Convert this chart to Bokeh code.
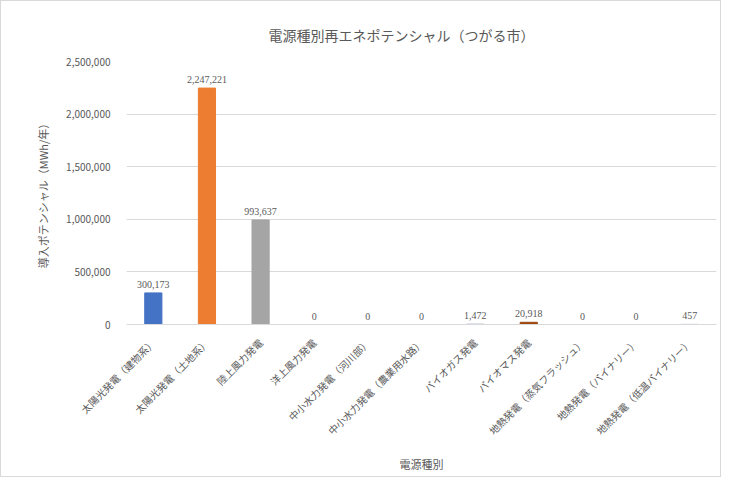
from bokeh.plotting import figure
from bokeh.models import ColumnDataSource, LabelSet, NumeralTickFormatter, FixedTicker, Range1d
from bokeh.embed import file_html
from bokeh.resources import INLINE
import math

categories = [
    "太陽光発電（建物系）",
    "太陽光発電（土地系）",
    "陸上風力発電",
    "洋上風力発電",
    "中小水力発電（河川部）",
    "中小水力発電（農業用水路）",
    "バイオガス発電",
    "バイオマス発電",
    "地熱発電（蒸気フラッシュ）",
    "地熱発電（バイナリー）",
    "地熱発電（低温バイナリー）",
]
values = [300173, 2247221, 993637, 0, 0, 0, 1472, 20918, 0, 0, 457]
colors = ["#4472C4", "#ED7D31", "#A5A5A5", "#FFC000", "#5B9BD5", "#70AD47",
          "#264478", "#9E480E", "#636363", "#997300", "#255E91"]
y_ticks = [0, 500000, 1000000, 1500000, 2000000, 2500000]

FONT = "Noto Sans CJK JP"
GRAY = "#595959"

src = ColumnDataSource(dict(
    cat=categories, val=values, color=colors,
    label=[f"{v:,}" for v in values],
))

p = figure(
    x_range=categories, y_range=Range1d(0, 2500000),
    width=721, height=477, output_backend="svg", toolbar_location=None,
    min_border_left=125, min_border_right=6, min_border_top=60, min_border_bottom=154,
    title="電源種別再エネポテンシャル（つがる市）",
)
p.styles = {"border": "1px solid #d9d9d9"}

p.vbar(x="cat", top="val", width=0.32, color="color", source=src)

labels = LabelSet(x="cat", y="val", text="label", source=src, y_offset=5,
                  text_align="center", text_baseline="bottom",
                  text_font_size="10px", text_color=GRAY, text_font=FONT)
p.add_layout(labels)

p.title.align = "left"
p.title.offset = 142
p.title.text_font = FONT
p.title.text_font_size = "14px"
p.title.text_font_style = "normal"
p.title.text_color = GRAY
p.title.standoff = 34

p.outline_line_color = None
p.xgrid.grid_line_color = None
p.ygrid.grid_line_color = "#d9d9d9"
p.ygrid.ticker = FixedTicker(ticks=y_ticks)

p.yaxis.ticker = FixedTicker(ticks=y_ticks)
p.yaxis.formatter = NumeralTickFormatter(format="0,0")
p.yaxis.axis_line_color = None
p.yaxis.major_tick_line_color = None
p.yaxis.minor_tick_line_color = None
p.yaxis.major_label_text_font = FONT
p.yaxis.major_label_text_font_size = "10px"
p.yaxis.major_label_text_color = GRAY
p.yaxis.major_label_standoff = 10
p.yaxis.axis_label = "導入ポテンシャル（MWh/年）"
p.yaxis.axis_label_text_font = FONT
p.yaxis.axis_label_text_font_size = "11px"
p.yaxis.axis_label_text_font_style = "normal"
p.yaxis.axis_label_text_color = GRAY
p.yaxis.axis_label_standoff = 12

p.xaxis.axis_line_color = "#d9d9d9"
p.xaxis.major_tick_line_color = None
p.xaxis.minor_tick_line_color = None
p.xaxis.major_label_orientation = math.pi / 4
p.xaxis.major_label_text_font = FONT
p.xaxis.major_label_text_font_size = "10px"
p.xaxis.major_label_text_color = GRAY
p.xaxis.major_label_standoff = 10
p.xaxis.axis_label = "電源種別"
p.xaxis.axis_label_text_font = FONT
p.xaxis.axis_label_text_font_size = "11px"
p.xaxis.axis_label_text_font_style = "normal"
p.xaxis.axis_label_text_color = GRAY
p.xaxis.axis_label_standoff = 10

p.x_range.range_padding = 0

open("out.html", "w").write(file_html(p, INLINE))
